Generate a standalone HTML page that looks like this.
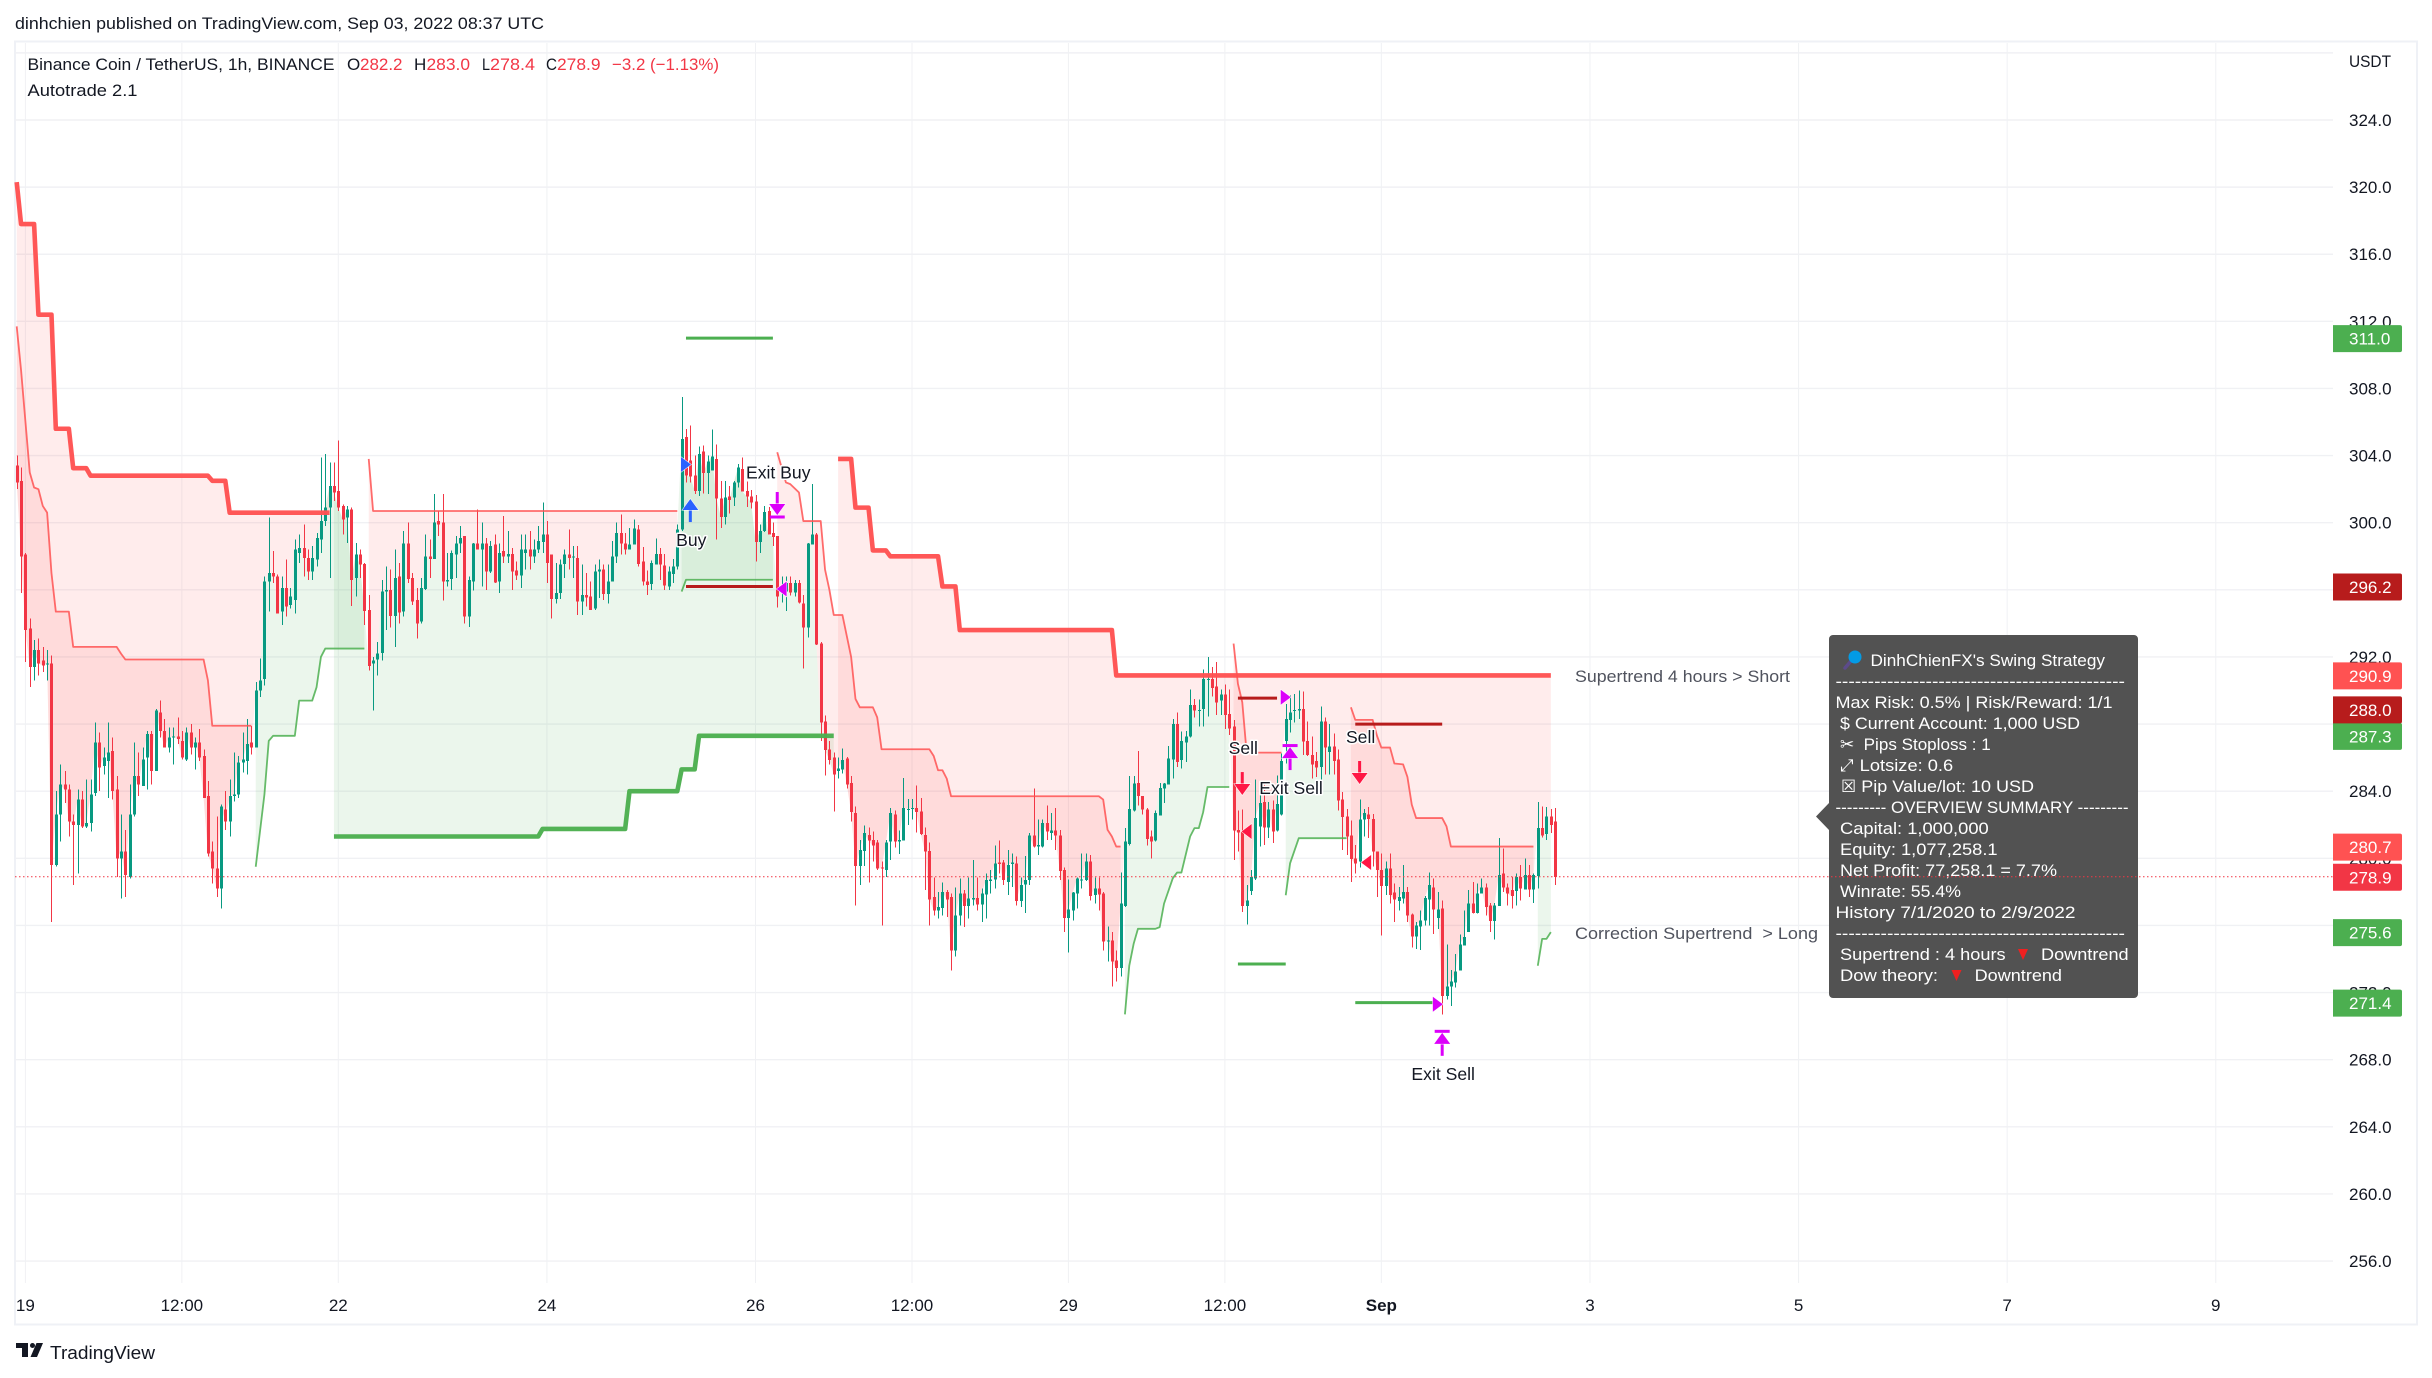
<!DOCTYPE html>
<html lang="en">
<head>
<meta charset="utf-8">
<title>BNB/USDT 1h Autotrade chart</title>
<style>
html,body{margin:0;padding:0;background:#fff;width:2432px;height:1378px;overflow:hidden}
svg{display:block}
text{font-family:"Liberation Sans","DejaVu Sans",sans-serif;font-size:17px;fill:#131722}
.r{fill:#F23645}
.w{fill:#fff}
.g{fill:#50535e}
</style>
</head>
<body>
<svg id="chart" xmlns="http://www.w3.org/2000/svg" width="2432" height="1378" viewBox="0 0 2432 1378">
  <rect x="0" y="0" width="2432" height="1378" fill="#fff"/>
  <text x="15" y="29" textLength="529" lengthAdjust="spacingAndGlyphs">dinhchien published on TradingView.com, Sep 03, 2022 08:37 UTC</text>
  <rect x="15" y="41.5" width="2402" height="1283" fill="none" stroke="#eff1f6" stroke-width="2"/>
  <g id="grid"></g>
  <g id="fills"></g>
  <g id="candles"></g>
  <g id="lines"></g>
  <g id="tradeLines"></g>
  <g id="markers"></g>

  <g>
    <text x="27.5" y="70" textLength="307" lengthAdjust="spacingAndGlyphs">Binance Coin / TetherUS, 1h, BINANCE</text>
    <text x="347" y="70">O</text>
    <text class="r" x="360" y="70" textLength="42.5" lengthAdjust="spacingAndGlyphs">282.2</text>
    <text x="414" y="70">H</text>
    <text class="r" x="426.5" y="70" textLength="43.5" lengthAdjust="spacingAndGlyphs">283.0</text>
    <text x="482" y="70" textLength="8" lengthAdjust="spacingAndGlyphs">L</text>
    <text class="r" x="490" y="70" textLength="45" lengthAdjust="spacingAndGlyphs">278.4</text>
    <text x="546" y="70" textLength="11" lengthAdjust="spacingAndGlyphs">C</text>
    <text class="r" x="557" y="70" textLength="43.5" lengthAdjust="spacingAndGlyphs">278.9</text>
    <text class="r" x="612" y="70" textLength="107" lengthAdjust="spacingAndGlyphs">−3.2 (−1.13%)</text>
    <text x="27.5" y="96" textLength="110" lengthAdjust="spacingAndGlyphs">Autotrade 2.1</text>
  </g>

  <text class="g" x="1575" y="682" textLength="215" lengthAdjust="spacingAndGlyphs">Supertrend 4 hours &gt; Short</text>
  <text class="g" x="1575" y="939" textLength="243" lengthAdjust="spacingAndGlyphs" xml:space="preserve">Correction Supertrend  &gt; Long</text>

  <g>
    <path fill="#525252" d="M1833 635H2134a4 4 0 0 1 4 4V994a4 4 0 0 1-4 4H1833a4 4 0 0 1-4-4V830L1816 816.5L1829 803V639a4 4 0 0 1 4-4Z"/>
    <g>
      <line x1="1851" y1="661" x2="1845" y2="668" stroke="#5c4b8a" stroke-width="3.5" stroke-linecap="round"/>
      <circle cx="1855" cy="657" r="6.5" fill="#039BE5"/>
    </g>
    <text class="w" x="1870.5" y="666" textLength="234.5" lengthAdjust="spacingAndGlyphs">DinhChienFX's Swing Strategy</text>
    <text class="w" x="1835.5" y="687" textLength="289.5" lengthAdjust="spacingAndGlyphs">---------------------------------------------</text>
    <text class="w" x="1835.5" y="708" textLength="277" lengthAdjust="spacingAndGlyphs">Max Risk: 0.5% | Risk/Reward: 1/1</text>
    <text class="w" x="1840" y="729" textLength="240" lengthAdjust="spacingAndGlyphs">$ Current Account: 1,000 USD</text>
    <text class="w" x="1840" y="750">✂</text>
    <text class="w" x="1863.7" y="750" textLength="127" lengthAdjust="spacingAndGlyphs">Pips Stoploss : 1</text>
    <text class="w" x="1840" y="771">⤢</text>
    <text class="w" x="1859.7" y="771" textLength="93.5" lengthAdjust="spacingAndGlyphs">Lotsize: 0.6</text>
    <text class="w" x="1841" y="792">☒</text>
    <text class="w" x="1861.3" y="792" textLength="172.7" lengthAdjust="spacingAndGlyphs">Pip Value/lot: 10 USD</text>
    <text class="w" x="1835.5" y="813" textLength="293" lengthAdjust="spacingAndGlyphs">--------- OVERVIEW SUMMARY ---------</text>
    <text class="w" x="1840" y="834" textLength="148.7" lengthAdjust="spacingAndGlyphs">Capital: 1,000,000</text>
    <text class="w" x="1840" y="855" textLength="157.6" lengthAdjust="spacingAndGlyphs">Equity: 1,077,258.1</text>
    <text class="w" x="1840" y="876" textLength="217" lengthAdjust="spacingAndGlyphs">Net Profit: 77,258.1 = 7.7%</text>
    <text class="w" x="1840" y="897" textLength="121" lengthAdjust="spacingAndGlyphs">Winrate: 55.4%</text>
    <text class="w" x="1835.5" y="918" textLength="240" lengthAdjust="spacingAndGlyphs">History 7/1/2020 to 2/9/2022</text>
    <text class="w" x="1835.5" y="939" textLength="289.5" lengthAdjust="spacingAndGlyphs">---------------------------------------------</text>
    <text class="w" x="1840" y="960" textLength="165.6" lengthAdjust="spacingAndGlyphs">Supertrend : 4 hours</text>
    <polygon points="2018,949 2028,949 2023,960" fill="#F02020"/>
    <text class="w" x="2041" y="960" textLength="87.6" lengthAdjust="spacingAndGlyphs">Downtrend</text>
    <text class="w" x="1840" y="981" textLength="98" lengthAdjust="spacingAndGlyphs">Dow theory:</text>
    <polygon points="1951.5,970 1961.5,970 1956.5,981" fill="#F02020"/>
    <text class="w" x="1974.6" y="981" textLength="87.4" lengthAdjust="spacingAndGlyphs">Downtrend</text>
  </g>

  <g id="axes"></g>
  <text x="2349" y="67" textLength="42" lengthAdjust="spacingAndGlyphs">USDT</text>
  <g id="priceLabels"></g>

  <g>
    <path fill="#131722" d="M16 1343H28V1357H22V1348H16Z"/>
    <circle cx="32.5" cy="1345.5" r="2.5" fill="#131722"/>
    <path fill="#131722" d="M36.5 1343H43L37 1357H30.5Z"/>
    <text x="50" y="1359" font-size="18" style="font-size:18px" textLength="105" lengthAdjust="spacingAndGlyphs">TradingView</text>
  </g>
</svg>

<script>
// ---------- OHLC series (one value per hourly bar) ----------
const opens = [
303.4,302.5,298.1,293.7,291.4,292.4,291.8,291.55,291.6,279.6,
282.6,284.4,284.1,282.2,282,283.5,281.9,282.1,283.9,286.9,
285.5,285.8,286.4,284.1,280,280.4,278.9,282.6,284.9,284.3,
286,287.4,285.2,288.7,287.6,286.6,287.2,287.25,287,285.9,
287.5,286.6,286.9,286.1,283.7,280.4,279.4,278.2,282.9,282.2,
283.7,283.8,285.7,285.8,286.9,286.6,290,290.7,296.5,297,
296.8,294.7,296.1,295.1,295.4,298.2,298.5,297.9,297.1,297.8,
299,300.1,300.9,302.2,301.9,301,300.3,300.8,296.7,298.1,
297.55,294.8,291.6,291.85,292.25,295.9,296,294.45,296.8,294.7,
298.75,296.7,295.4,294.1,296.05,298,297.85,300.1,300,296.5,
296.65,298.1,298.75,299.2,294.4,296.5,298.75,298.4,298.75,297.1,
298.7,296.5,298.3,298,298.15,297.15,296.85,298.2,298.4,298,
298.4,298.85,299.3,298.1,295.45,295.8,297.55,298.1,297.95,297.9,
295.3,295.7,295.6,294.9,297.1,297.2,295.75,296.5,298,299.4,
298.75,298.4,298.7,299.6,297.7,296.5,296.35,297.5,298.15,297.45,
296.2,296.95,297.4,299.6,305.1,303.7,302.8,301.9,304.25,302.95,
303.1,303.8,301.45,300.35,301.55,301.5,302.4,303.2,301.9,301.55,
301.25,298.85,299.5,300.7,299.4,299.2,295.9,295.9,296.4,295.85,
296.4,295.2,293.75,298.7,299.3,292.8,288.15,286.5,286,285.2,
285.3,285.95,284.5,282.7,279.55,280.45,281.4,281.1,280.95,279.45,
279.3,281,282.6,281,281.05,282.9,282.95,283,282.8,281.4,
280.45,277.7,276.9,277.05,278,277.7,274.5,276.6,277.9,277.15,
277.55,277.65,277.25,277.85,278.65,278.75,279.75,279.75,278.6,279.65,
279.7,277.45,278.45,278.7,281.35,280.7,280.7,282.1,281.5,281.65,
281.35,279.3,276.45,276.9,277.9,278.7,278.7,279.8,277.8,278.2,
277.9,275.05,275.1,273.9,273.45,277.15,280.85,282.85,284.5,283.7,
282.9,281.3,281.05,282.55,284.15,284.4,285.9,288,285.85,286.9,
287.25,289.15,288.8,288.9,290.65,290.7,290.25,289.4,289.75,288.6,
287.85,281.7,281.6,277.15,278.05,278.8,281.9,283.35,281.85,282.9,
281.65,282.6,287,288.25,288.8,288.8,288.9,287,286.15,285.8,
285.45,288.15,286.35,286.65,285.9,283.5,282.5,281.35,280,279.8,
282.3,282.6,282.35,280.4,279.3,278.35,279.4,277.95,277.45,277.6,
278,276.65,275.35,275.95,276.3,277.55,278.25,276.45,277,271.8,
272.35,272.6,273.3,274.8,275.6,277.3,276.75,277.9,278.25,277.2,
276.25,277.15,279.1,278.25,278.1,278.05,278.9,278.15,279,278.15,
278.95,281.8,281.45,282.5,282.2];
const highs = [
304,303.3,298.2,294.3,293,293.1,292.6,292.4,292.1,284,
285.6,285.2,284.4,282.6,284.1,284,284.7,284.7,288.1,287.5,
286.6,288.1,287.2,284.9,282.6,281.7,284.4,286.9,286.3,286.6,
287.6,287.6,288.9,289.4,288.3,287.8,287.8,288.4,287.6,287.8,
288,287.2,287.7,286.5,284.6,281,282.5,283.2,284,284.7,
286.3,286.1,287.5,288.3,287.9,290.5,291.9,296.8,300.3,298.3,
296.9,296.8,297.8,296.1,299,299.3,299.9,298.4,298.6,299.4,
303.9,304.1,303.6,303.6,304.9,301.1,301,300.9,298.8,298.4,
297.6,295.7,292,292.9,296.6,297.4,297.2,298.4,297.6,299.5,
300,297,296.1,296.7,299.3,299,301.7,300.7,301.7,298.2,
298.35,299.2,299.8,299.2,296.8,298.8,300.8,300,299.1,298.9,
299.3,298.75,300.4,299.5,298.5,297.7,299.3,299.3,299.5,299,
299.8,301.2,300.1,298.1,297.6,297.8,298.4,299.6,298.6,298.6,
297.5,297,296.5,297.5,297.8,297.5,297.5,298.9,300,300.5,
299.4,299.7,300.2,299.85,298.55,297.15,297.75,299.05,298.5,298.15,
297.4,297.85,299.9,307.5,305.6,305.8,304,304.55,304.6,304,
305.55,304.65,302.5,302.5,302.2,302.5,303.5,303.9,302.45,301.95,
301.65,299.9,301,300.95,300,299.2,296.8,296.8,296.8,296.6,
296.6,295.7,298.8,302.3,299.4,292.9,288.5,287,286.3,286,
286.55,286.05,284.9,283.1,281.1,281.95,281.85,281.6,281.1,279.8,
281.1,283,282.85,281.65,284.8,283.55,283.55,284.35,283.6,281.85,
280.95,278.85,278,278.55,278.1,277.9,278.25,278.8,278.1,278.85,
279.9,278.85,278.2,279.1,279.3,280.75,281.05,279.9,280.5,280.3,
280.1,278.85,280.15,281.5,284.15,282.3,282.3,283.15,282.7,283,
281.7,279.45,278.75,278,278.85,280.3,280.3,280.2,278.85,278.85,
278,275.95,275.6,274.5,279.15,281.8,284.9,284.9,286.4,283.7,
283,281.65,282.85,284.5,284.5,286.7,288.3,288.7,287.55,287.6,
290.05,289.5,289.45,291.25,292,291.4,291.7,290.05,290.35,290.05,
288.25,282.85,282.9,278.4,279.3,284.7,284.25,284.6,283.35,283.45,
284.95,286.25,289.2,289.7,289.8,290,289.95,288.15,287.25,286.35,
289.05,288.4,288,287.45,286.5,283.95,282.95,282.25,280.8,283.5,
282.95,283.05,282.65,280.4,280.3,279.8,280.3,278.5,278.3,279.6,
278.3,276.7,276.2,276.9,277.75,279.15,278.8,278,277.5,274.85,
273.35,274.3,275.45,276.9,278.1,278.6,278.5,278.8,278.5,277.35,
277.35,281.2,280.6,278.5,278.9,279.1,279.6,280,279.6,279.1,
283.35,283.1,283.05,282.95,283];
const lows = [
302,295.8,291.7,290.2,290.6,290.9,291.1,290.6,276.2,279.5,
281,283.3,281.3,278.4,279.1,281.8,281.8,281.6,283.7,284,
285,283.6,283.5,278.9,277.6,277.7,278.8,282.5,283.7,284.3,
284.1,284.4,285.2,287.2,286.6,286.3,285.6,286.8,285.9,285.8,
286.2,285.3,285.8,283.6,280.1,278.5,277.7,277,281.7,281.3,
283.4,283.6,285.1,285,286.2,286.6,289.6,290.3,294.7,296.4,
294.6,293.9,294.4,294.9,294.6,297.6,296.8,296.6,296.6,297.4,
298.2,299.8,296.7,301.3,300.7,299.3,298.8,295.05,295.6,296.7,
293.9,291.2,288.8,290.9,291.8,293.6,293.75,292.6,294,294.4,
296.4,295.1,293.1,294,296,296.7,297.85,299.2,295.35,296.2,
296,296.7,298.2,294,293.8,295.95,298.4,296.2,296,297,
296.4,295.8,297.6,297.6,296,296.6,296.1,297.2,297.2,297.6,
298.2,298.2,296.4,294.3,295.2,295.45,296.7,297.2,296.7,294.5,
294.5,295,294.8,294.8,295.5,295.4,295.2,296.5,297.6,298.1,
298.1,298.4,298.7,297.4,296.25,295.7,296,297.5,296.6,296,
296,296.4,297.2,299.5,302.4,302.4,301.7,301.6,301.75,301.7,
303.1,299,299.7,299.9,300.55,301,302.1,301.85,300.95,300.85,
297.7,298.2,299.45,299.3,298.6,294.95,295.25,294.75,295.65,295.6,
295.2,291.3,293.15,298.7,292.7,287,284.95,285.6,282.8,284.75,
285.05,284.15,282.2,277.2,278.4,279.55,278.55,279.8,279.3,276,
278.9,279.9,280.65,280.25,281.05,282,282.3,281.55,281.4,278.1,
276,276.6,276.4,276.6,276.5,273.3,274.15,276,275.9,276.4,
277.2,276.9,276.2,276.4,277.9,278.2,279.1,278.4,277.8,278.3,
277.2,277.1,276.75,278.4,280.65,280.2,280.65,281.1,281.1,280.5,
278.7,275.6,274.4,276.3,277,278.2,278.65,277.5,277.3,276.9,
274.5,273.85,272.35,272.65,272.95,277.1,280.75,282.8,283.15,282.6,
280.75,280,281,282.55,283.3,284.4,284.75,285.45,285.35,285.75,
287.2,288.4,287.85,287.85,288.45,289.65,288.55,288.55,287.7,287.35,
279.9,280.4,276.8,276.05,277.8,278.7,280.7,280.8,281.2,280.9,
281.6,282.55,285.65,287.5,288.1,288.3,286.15,286.1,284.75,284.85,
284.65,285,285,285,282.85,280.5,280.2,278.6,279.1,279.45,
281.3,281.2,279.5,277.7,275.4,277.8,277.3,276.2,276.9,277.3,
276.2,274.7,274.6,274.55,276,276,275.5,275.8,270.7,271.6,
271.2,272.3,273.3,274.8,275.6,276.7,276.7,277.9,276.6,275.6,
275.15,277.15,278,277.2,277,277.2,277.5,278.15,277.7,277.35,
278.2,281.25,281.1,281.5,278.4];
const closes = [
302.4,298,293.6,291.4,292.4,291.6,291.5,291.6,279.6,282.6,
284.4,284.1,282.2,282,283.5,281.9,282.1,283.8,286.9,285.4,
286,286.3,284,280,280.4,279,282.6,284.9,284.4,285.9,
287.4,285.2,288.8,287.6,286.6,287.2,287.25,287.1,286,287.5,
286.6,286.9,286,283.6,280.3,279.4,278.2,283.1,282.2,283.7,
283.8,285.7,285.9,286.8,286.6,290,290.6,296.5,297,296.8,
294.6,296.1,295,295.6,298.4,298.5,297.9,297.1,297.9,299.1,
300.1,300.9,302.2,301.8,300.9,300.2,300.8,296.6,298.1,297.5,
294.75,291.45,291.8,292.2,295.9,296,294.45,296.7,294.65,298.75,
296.65,295.3,294,296.1,298,297.85,300,299.9,296.5,296.6,
298.2,298.75,299.1,294.4,296.6,298.75,298.4,298.75,297.1,298.6,
296.45,298.2,298,298.15,297.1,296.85,298.4,298.4,298,298.4,
298.9,299.3,297.6,295.45,295.8,297.5,298.1,297.9,298,295.3,
295.7,295.55,294.8,297.1,297.2,295.75,296.5,298,299.4,298.75,
298.4,298.7,299.65,297.55,296.5,296.3,297.6,298.15,297.5,296.25,
297.1,297.4,299.6,305,302.8,302.75,301.9,304.1,302.95,303.65,
303.95,301.45,300.35,301.5,301.35,302.4,303.3,301.85,301.55,301.2,
298.85,299.5,300.65,299.3,299.15,295.6,296.2,296.4,295.85,296.4,
295.25,293.75,298.75,299.3,292.75,288.1,286.45,285.85,285,285.35,
285.85,284.4,282.75,279.55,280.5,281.5,281.05,280.75,279.4,279.4,
280.95,282.7,281,281.1,283,282.95,283,282.75,281.45,280.4,
277.55,276.9,277.1,278,277.55,274.5,276.6,277.9,277.15,277.6,
277.65,277.25,277.9,278.7,278.75,279.7,279.65,278.7,279.6,279.75,
277.45,278.4,278.7,281.35,280.7,280.8,282.1,281.6,281.65,281.35,
279.25,276.45,276.95,277.95,278.8,278.75,279.8,277.75,278.2,277.85,
275.05,275.1,273.85,273.45,277.3,281,282.95,284.45,283.7,282.9,
281.15,281,282.7,284.2,284.45,285.95,288,285.75,287,287.25,
289.15,288.8,288.85,290.7,290.7,290.15,289.3,289.75,288.55,287.75,
281.65,281.55,277.15,277.5,278.9,282.4,283.3,281.85,282.9,281.6,
283.25,285.8,288.3,288.7,288.85,288.9,286.95,286.15,285.6,285.4,
288.15,286.6,286.65,285.8,283.45,282.45,281.3,279.95,279.7,282.3,
282.7,282.35,280.4,279.3,278.35,279.4,277.8,277.55,277.7,278,
276.6,275.35,276,276.3,277.65,278.4,276.95,276.95,271.8,272.35,
272.65,273.25,274.85,275.3,277.3,276.75,277.9,278.25,277.1,276.25,
277.2,279,278.25,277.9,277.75,278.9,278.2,279,278.15,279,
281.8,281.35,282.5,282,278.9];

// ---------- Supertrend 4 hours (thick) ----------
const st4hRed1Bars = [0,1,4,5,8,9,12,13,16,17,44,45,48,49,72];
const st4hRed1Vals = [320.3,317.8,317.8,312.4,312.4,305.6,305.6,303.25,303.25,302.8,302.8,302.5,302.5,300.6,300.6];
const st4hRed2Bars = [189,192,193,196,197,200,201,212,213,216,217,252,253,353];
const st4hRed2Vals = [303.8,303.8,300.9,300.9,298.35,298.35,298,298,296.2,296.2,293.6,293.6,290.9,290.9];
const st4hGreenBars = [73,120,121,140,141,152,153,156,157,188];
const st4hGreenVals = [281.3,281.3,281.75,281.75,284,284,285.3,285.3,287.3,287.3];

// ---------- Correction supertrend (thin) ----------
const corrRedABars = [0,1,3,4,5,6,7,8,9,12,13,23,24,25,43,44,45,54];
const corrRedAVals = [311.7,309.1,303,302.1,302,301,300.6,297,294.7,294.7,292.6,292.6,292.2,291.85,291.85,290.6,287.9,287.9];
const corrGreenABars = [55,57,58,59,64,65,68,69,70,71,80];
const corrGreenAVals = [279.5,283.8,287,287.3,287.3,289.4,289.4,290.2,292,292.5,292.5];
const corrRedBBars = [81,82,152];
const corrRedBVals = [303.8,300.7,300.7];
const corrGreenBBars = [153,154,174];
const corrGreenBVals = [295.9,296.6,296.6];
const corrRedCBars = [175,177,178,180,181,185,186,187,188,190,192,193,194,197,198,199,210,211,212,213,214,215,249,250,251,252,253,254];
const corrRedCVals = [304.2,302.4,302.3,301.8,300.1,300.1,297.2,296,294.5,294.5,292,289.5,289,289,288.4,286.5,286.5,286.1,285.25,285.25,284.75,283.7,283.7,283.5,281.7,281.3,280.7,280.7];
const corrGreenCBars = [255,256,257,258,262,263,264,266,267,268,270,271,272,273,274,279];
const corrGreenCVals = [270.7,273.6,274.9,275.8,275.8,275.9,277.3,278.8,279.15,279.15,281.3,281.8,281.8,282.75,284.25,284.25];
const corrRedDBars = [280,281,282,283,291];
const corrRedDVals = [292.8,290.4,289.3,286.3,286.3];
const corrGreenDBars = [292,293,295,306];
const corrGreenDVals = [277.8,279.7,281.2,281.2];
const corrRedEBars = [307,308,312,313,314,316,317,319,320,321,322,328,329,330,349];
const corrRedEVals = [289,288.25,288.25,287.3,286.6,286.6,285.65,285.6,284.85,283.2,282.4,282.4,281.9,280.7,280.7];
const corrGreenEBars = [350,351,352,353];
const corrGreenEVals = [273.6,275.2,275.2,275.6];

// ---------- Trade levels ----------
const tradeLevelStart = [154,154,281,281,308,308];
const tradeLevelEnd = [174,174,290,292,328,326];
const tradeLevelPrice = [311,296.2,289.55,273.7,288,271.4];
const tradeLevelKind = ['target','stop','stop','target','stop','target'];

// ---------- Markers ----------
const triangleBars = [154,176,292,283,310.5,327];
const trianglePrices = [303.47,296.05,289.6,281.6,279.75,271.3];
const triangleDirs = ['right','left','right','left','left','right'];
const triangleKinds = ['buy','exit','exit','sell','sell','exit'];

const arrowBars = [155,175,282,309,293,328];
const arrowTipPrices = [301.41,300.46,283.77,284.43,286.63,269.6];
const arrowDirs = ['up','down','down','down','up','up'];
const arrowKinds = ['buy','exit','sell','sell','exit','exit'];
const arrowLabels = ['Buy','Exit Buy','Sell','Sell','Exit Sell','Exit Sell'];

// ---------- Axes ----------
const gridPrices = [328,324,320,316,312,308,304,300,296,292,288,284,280,276,272,268,264,260,256];
const timeTickBars = [2,38,74,122,170,206,242,278,314,362,410,458,506];
const timeTickLabels = ['19','12:00','22','24','26','12:00','29','12:00','Sep','3','5','7','9'];
const boldTimeLabels = ['Sep'];

// ---------- Right-axis value tags ----------
const tagPrices = [311,296.2,290.9,288,287.3,280.7,278.9,275.6,271.4];
const tagKinds = ['green','stop','line','stop','green','line','last','green','green'];
const lastPrice = 278.9;

// ---------- Scales and drawing ----------
const NS = 'http://www.w3.org/2000/svg';
const xScale = bar => 16.7 + 4.346 * bar;
const yScale = price => 120 + (324 - price) * 16.78;
const PLOT_LEFT = 15, PLOT_RIGHT = 2333, PLOT_BOTTOM = 1283, PLOT_TOP = 43;
const UP = '#089981', DOWN = '#F23645';
const RED = '#FF5252', GREEN = '#4CAF50', STOP = '#B71C1C';
const MAGENTA = '#DC00FA', BLUE = '#2962FF', SELL = '#FF1744';
const kindColor = { buy: BLUE, exit: MAGENTA, sell: SELL };
const tagColor = { green: GREEN, stop: STOP, line: RED, last: DOWN };

function make(tag, attrs, parent) {
  const el = document.createElementNS(NS, tag);
  for (const k in attrs) el.setAttribute(k, attrs[k]);
  parent.appendChild(el);
  return el;
}
const gGrid = document.getElementById('grid');
const gFills = document.getElementById('fills');
const gCandles = document.getElementById('candles');
const gLines = document.getElementById('lines');
const gTrade = document.getElementById('tradeLines');
const gMarkers = document.getElementById('markers');
const gAxes = document.getElementById('axes');
const gTags = document.getElementById('priceLabels');

// grid
gridPrices.forEach(p => {
  const line = make('line', { x1: PLOT_LEFT, x2: PLOT_RIGHT, y1: yScale(p), y2: yScale(p), stroke: '#f0f1f4', 'stroke-width': 1.4 }, gGrid);
  
  
});
timeTickBars.forEach(b => {
  const line = make('line', { x1: xScale(b), x2: xScale(b), y1: PLOT_TOP, y2: PLOT_BOTTOM, stroke: '#f0f1f4', 'stroke-width': 1 }, gGrid);
  
  
});

// fills between a trend line and the close
function drawFill(bars, vals, color, name) {
  const pts = bars.map((b, i) => xScale(b) + ',' + yScale(vals[i]));
  for (let b = bars[bars.length - 1]; b >= bars[0]; b--) pts.push(xScale(b) + ',' + yScale(closes[b]));
  const poly = make('polygon', { points: pts.join(' '), fill: color, 'fill-opacity': 0.11 }, gFills);
  
  
}
function drawLine(bars, vals, color, width, opacity, name) {
  const pts = bars.map((b, i) => xScale(b) + ',' + yScale(vals[i])).join(' ');
  const line = make('polyline', { points: pts, fill: 'none', stroke: color, 'stroke-width': width, 'stroke-opacity': opacity, 'stroke-linejoin': 'round', 'stroke-linecap': 'butt' }, gLines);
  
  
}
const thickSeries = [
  [st4hRed1Bars, st4hRed1Vals, RED, 'supertrend-4h-short-line'],
  [st4hGreenBars, st4hGreenVals, GREEN, 'supertrend-4h-long-line'],
  [st4hRed2Bars, st4hRed2Vals, RED, 'supertrend-4h-short-line']
];
const thinSeries = [
  [corrRedABars, corrRedAVals, RED, 'correction-short-line'],
  [corrGreenABars, corrGreenAVals, GREEN, 'correction-long-line'],
  [corrRedBBars, corrRedBVals, RED, 'correction-short-line'],
  [corrGreenBBars, corrGreenBVals, GREEN, 'correction-long-line'],
  [corrRedCBars, corrRedCVals, RED, 'correction-short-line'],
  [corrGreenCBars, corrGreenCVals, GREEN, 'correction-long-line'],
  [corrRedDBars, corrRedDVals, RED, 'correction-short-line'],
  [corrGreenDBars, corrGreenDVals, GREEN, 'correction-long-line'],
  [corrRedEBars, corrRedEVals, RED, 'correction-short-line'],
  [corrGreenEBars, corrGreenEVals, GREEN, 'correction-long-line']
];
thickSeries.concat(thinSeries).forEach(s => drawFill(s[0], s[1], s[2], 'trend-fill'));

// candles
closes.forEach((c, i) => {
  const o = opens[i], color = c >= o ? UP : DOWN;
  const cx = Math.round(xScale(i));
  const top = yScale(Math.max(o, c)), bot = yScale(Math.min(o, c));
  const g = make('g', { 'shape-rendering': 'crispEdges', fill: color }, gCandles);
  
  
  make('rect', { x: cx, y: yScale(highs[i]), width: 1, height: Math.max(1, yScale(lows[i]) - yScale(highs[i])) }, g);
  make('rect', { x: cx - 1, y: top, width: 3, height: Math.max(1, bot - top) }, g);
});

// trend lines over the candles
thinSeries.forEach(s => drawLine(s[0], s[1], s[2], 1.8, 0.85, s[3]));
thickSeries.forEach(s => drawLine(s[0], s[1], s[2], 4.6, 0.97, s[3]));

// trade level lines
tradeLevelPrice.forEach((p, i) => {
  const line = make('line', { x1: xScale(tradeLevelStart[i]), x2: xScale(tradeLevelEnd[i]), y1: yScale(p), y2: yScale(p), stroke: tradeLevelKind[i] === 'target' ? GREEN : STOP, 'stroke-width': 3 }, gTrade);
  
  
});

// triangles
trianglePrices.forEach((p, i) => {
  const cx = xScale(triangleBars[i]), cy = yScale(p);
  const d = triangleDirs[i] === 'right' ? 1 : -1;
  const pts = [(cx + 5 * d) + ',' + cy, (cx - 5 * d) + ',' + (cy - 7.5), (cx - 5 * d) + ',' + (cy + 7.5)].join(' ');
  const tri = make('polygon', { points: pts, fill: kindColor[triangleKinds[i]], stroke: '#fff', 'stroke-width': 1, 'paint-order': 'stroke' }, gMarkers);
  
  
});

// arrows with labels
arrowTipPrices.forEach((p, i) => {
  const kind = arrowKinds[i], color = kindColor[kind];
  const cx = xScale(arrowBars[i]), tip = yScale(p);
  const s = arrowDirs[i] === 'up' ? 1 : -1;
  const tail = tip + 23 * s, neck = tip + 11 * s;
  const g = make('g', {}, gMarkers);
  
  
  make('polygon', { points: (cx - 1.5) + ',' + neck + ' ' + (cx + 1.5) + ',' + neck + ' ' + (cx + 1.5) + ',' + tail + ' ' + (cx - 1.5) + ',' + tail, fill: color }, g);
  make('polygon', { points: cx + ',' + tip + ' ' + (cx - 8) + ',' + neck + ' ' + (cx + 8) + ',' + neck, fill: color, stroke: '#fff', 'stroke-width': 1, 'paint-order': 'stroke' }, g);
  if (kind === 'exit') {
    make('rect', { x: cx - 7.5, y: s > 0 ? tip - 3 : tip + 0.5, width: 15, height: 3, fill: color }, g);
  }
  const gap = s > 0 ? 24 : (kind === 'exit' ? -13.5 : -18);
  const label = make('text', { x: cx + 1, y: tail + gap, 'text-anchor': 'middle', stroke: '#fff', 'stroke-width': 3, 'paint-order': 'stroke', 'stroke-linejoin': 'round', style: 'font-size:17.6px' }, gMarkers);
  
  
  label.textContent = arrowLabels[i];
});

// price axis and time axis labels
gridPrices.forEach(p => {
  if (p > 324) return;
  const t = make('text', { x: 2349, y: yScale(p) + 6 }, gAxes);
  
  
  t.textContent = p.toFixed(1);
});
timeTickBars.forEach((b, i) => {
  const t = make('text', { x: xScale(b), y: 1311, 'text-anchor': 'middle' }, gAxes);
  if (boldTimeLabels.includes(timeTickLabels[i])) t.setAttribute('font-weight', '700');
  
  
  t.textContent = timeTickLabels[i];
});

// last price line runs over the tooltip
const lastLine = make('line', { x1: PLOT_LEFT, x2: PLOT_RIGHT, y1: yScale(lastPrice), y2: yScale(lastPrice), stroke: DOWN, 'stroke-width': 1, 'stroke-dasharray': '1.5 2.5' }, gAxes);



// value tags, pushed apart when they would overlap
const tagOrder = tagPrices.map((_, i) => i).sort((a, b) => tagPrices[a] - tagPrices[b]);
let prevCenter = Infinity;
tagOrder.forEach(i => {
  let cy = yScale(tagPrices[i]) + 0.5;
  if (prevCenter - cy < 26.5) cy = prevCenter - 26.5;
  prevCenter = cy;
  const g = make('g', {}, gTags);
  
  
  make('path', { d: 'M2333 ' + (cy - 13.5) + 'H2400a2 2 0 0 1 2 2V' + (cy + 11.5) + 'a2 2 0 0 1-2 2H2333Z', fill: tagColor[tagKinds[i]] }, g);
  const t = make('text', { x: 2349, y: cy + 6, class: 'w' }, g);
  t.textContent = tagPrices[i].toFixed(1);
});
</script>
</body>
</html>
